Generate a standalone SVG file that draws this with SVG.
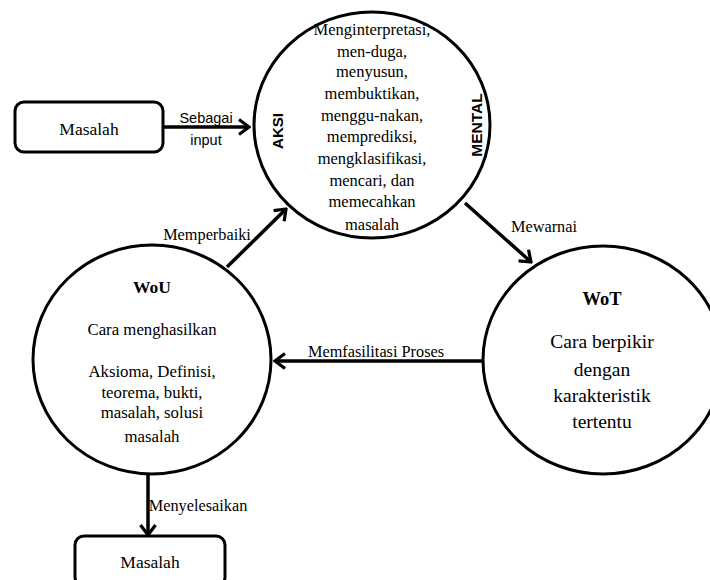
<svg xmlns="http://www.w3.org/2000/svg" width="710" height="580" viewBox="0 0 710 580">
<style>
.serif{font-family:"Liberation Serif","Times New Roman",serif;fill:#000;text-anchor:middle}
.sans{font-family:"Liberation Sans",Arial,sans-serif;fill:#000;text-anchor:middle}
.shape{fill:#fff;stroke:#000;stroke-width:3}
.conn{stroke:#000;stroke-width:3.5;fill:none;marker-end:url(#arr)}
</style>
<defs>
<marker id="arr" markerUnits="userSpaceOnUse" viewBox="0 0 14 18" refX="12" refY="9" markerWidth="14" markerHeight="18" orient="auto">
<path d="M2,1.5 L12,9 L2,16.5" fill="none" stroke="#000" stroke-width="3.2"/>
</marker>
</defs>
<rect width="710" height="580" fill="#fff"/>

<g id="connectors">
<line class="conn" x1="163" y1="127" x2="249" y2="127"/>
<line class="conn" x1="227" y1="267" x2="286" y2="209"/>
<line class="conn" x1="465" y1="203" x2="531" y2="262"/>
<line class="conn" x1="483" y1="361" x2="275" y2="361"/>
<line class="conn" x1="148" y1="474" x2="148" y2="535"/>
<text class="sans" x="206" y="123" font-size="14.5">Sebagai</text>
<text class="sans" x="206" y="145" font-size="14.5">input</text>
<text class="serif" x="207" y="240" font-size="16.3">Memperbaiki</text>
<text class="serif" x="544" y="232" font-size="16.3">Mewarnai</text>
<text class="serif" x="376" y="357" font-size="16.3">Memfasilitasi Proses</text>
<text class="serif" x="198" y="511" font-size="16.3">Menyelesaikan</text>
</g>

<g id="masalah-input">
<rect class="shape" x="15" y="102" width="148" height="50" rx="9" stroke-width="2.8"/>
<text class="serif" x="89" y="135" font-size="17.5">Masalah</text>
</g>

<g id="aksi-mental">
<ellipse class="shape" cx="372" cy="125" rx="118" ry="113"/>
<g class="serif" font-size="16.5">
<text x="372" y="35">Menginterpretasi,</text>
<text x="372" y="57">men-duga,</text>
<text x="372" y="77">menyusun,</text>
<text x="372" y="99">membuktikan,</text>
<text x="372" y="121">menggu-nakan,</text>
<text x="372" y="142">memprediksi,</text>
<text x="372" y="164">mengklasifikasi,</text>
<text x="372" y="186">mencari, dan</text>
<text x="372" y="207">memecahkan</text>
<text x="372" y="230">masalah</text>
</g>
<text class="sans" x="283" y="131" font-size="15" font-weight="bold" transform="rotate(-90 283 131)">AKSI</text>
<text class="sans" x="482" y="125" font-size="15.5" font-weight="bold" transform="rotate(-90 482 125)">MENTAL</text>
</g>

<g id="wou">
<ellipse class="shape" cx="152" cy="359.5" rx="119" ry="114.5"/>
<text class="serif" x="152" y="293" font-size="17.5" font-weight="bold">WoU</text>
<g class="serif" font-size="16.8">
<text x="152" y="335">Cara menghasilkan</text>
<text x="152" y="377">Aksioma, Definisi,</text>
<text x="152" y="398">teorema, bukti,</text>
<text x="152" y="418">masalah, solusi</text>
<text x="152" y="442">masalah</text>
</g>
</g>

<g id="wot">
<ellipse class="shape" cx="603" cy="360" rx="120" ry="114"/>
<text class="serif" x="602" y="305" font-size="18.5" font-weight="bold">WoT</text>
<g class="serif" font-size="19.5">
<text x="602" y="348">Cara berpikir</text>
<text x="602" y="376">dengan</text>
<text x="602" y="402">karakteristik</text>
<text x="602" y="428">tertentu</text>
</g>
</g>

<g id="masalah-output">
<rect class="shape" x="75" y="536" width="150" height="50" rx="9" stroke-width="2.8"/>
<text class="serif" x="150" y="568" font-size="17.5">Masalah</text>
</g>
</svg>
